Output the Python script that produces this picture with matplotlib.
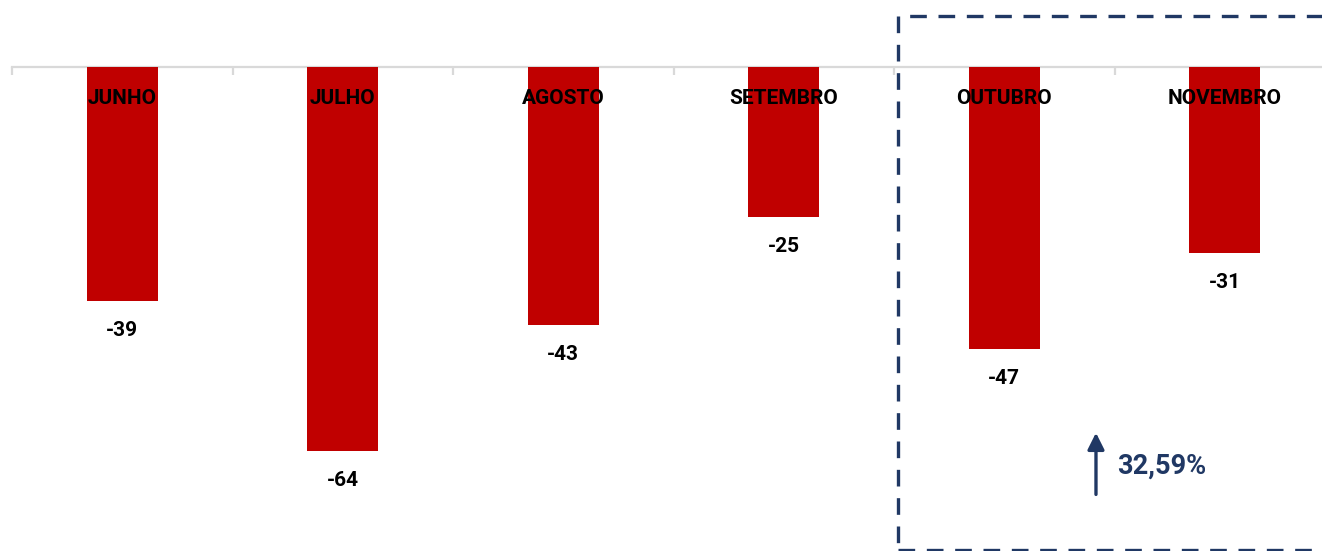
import numpy as np
import matplotlib
matplotlib.use("Agg")
from matplotlib import pyplot as plt
from matplotlib.patches import Rectangle

meses = ["JUNHO", "JULHO", "AGOSTO", "SETEMBRO", "OUTUBRO", "NOVEMBRO"]
valores = [-39, -64, -43, -25, -47, -31]
variacao = "32,59%"

vermelho = "#C00000"
azul = "#203864"
cinza = "#D9D9D9"

plt.rcParams['font.family'] = ['Roboto', 'DejaVu Sans']

W, H = 1322, 551
fig = plt.figure(figsize=(W / 100, H / 100), dpi=100)
# eixo vai de x=12 ate ~1335 px, linha do zero em y=67 px
ax = fig.add_axes([12 / W, 0, 1323 / W, 484 / H])
x = np.arange(len(meses))
ax.bar(x, valores, width=0.32, color=vermelho, zorder=2)
ax.set_xlim(-0.5, len(meses) - 0.5)
ax.set_ylim(-484 / 6, 0)

for s in ["left", "right", "bottom"]:
    ax.spines[s].set_visible(False)
ax.spines["top"].set_color(cinza)
ax.spines["top"].set_linewidth(1.6)
ax.spines["top"].set_zorder(1)
ax.set_yticks([])
ax.xaxis.set_ticks_position("top")
ax.set_xticks(np.arange(len(meses) + 1) - 0.5)
ax.set_xticklabels([])
ax.tick_params(axis="x", direction="in", length=6, width=1.6, color=cinza)

for xi, m in zip(x, meses):
    ax.text(xi, -5.3, m, ha="center", va="center", fontsize=15,
            fontweight="bold", color="black", zorder=3)

for xi, v in zip(x, valores):
    ax.annotate(str(v), (xi, v), xytext=(0, -21), textcoords="offset points",
                ha="center", va="center", fontsize=15, fontweight="bold",
                color="black")

# seta e percentual
ax.annotate("", xy=(4.416, -60.5), xytext=(4.416, -71.7),
            arrowprops=dict(arrowstyle="-|>,head_length=1.0,head_width=0.5",
                            color=azul, lw=2.4))
ax.text(4.51, -66.5, variacao, ha="left", va="center", fontsize=19.5,
        fontweight="bold", color=azul)

# caixa tracejada
rect = Rectangle((898 / W, 1 / H), 500 / W, (551 - 16 - 1) / H,
                 transform=fig.transFigure, fill=False, edgecolor=azul,
                 lw=2.4, linestyle=(0, (5, 3.5)), clip_on=False)
fig.patches.append(rect)

fig.savefig("out.png", dpi=100)
